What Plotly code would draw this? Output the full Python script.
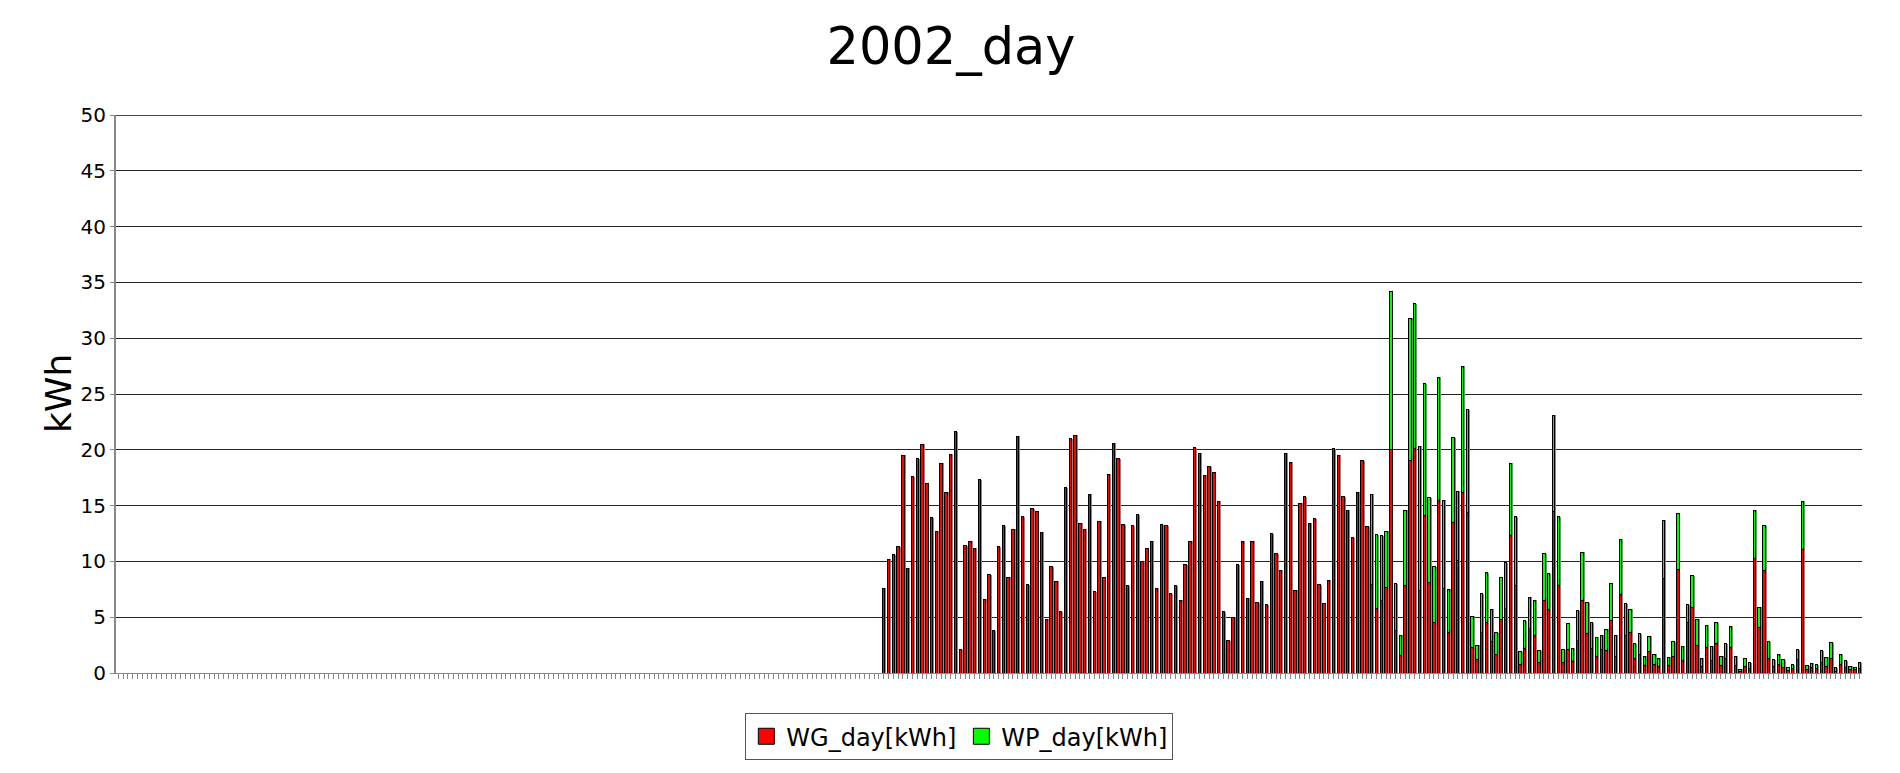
import pandas as pd
import plotly.graph_objects as go

# categories: every day of 2002
days = [d.strftime("%Y-%m-%d") for d in pd.date_range("2002-01-01", "2002-12-31", freq="D")]

# WG_day[kWh] values, first value belongs to day index 160 (2002-06-10)
wg_start = 160
wg_day = [
    7.6, 10.2, 10.6, 11.3, 19.5, 9.4, 17.6, 19.2, 20.5, 17.0,
    13.9, 12.7, 18.8, 16.2, 19.6, 21.6, 2.1, 11.4, 11.8, 11.2,
    17.3, 6.6, 8.8, 3.8, 11.3, 13.2, 8.6, 12.9, 21.2, 14.0,
    7.9, 14.7, 14.5, 12.6,
    4.8, 9.5, 8.2, 5.5, 16.6, 21.0, 21.3, 13.4, 12.9, 16.0,
    7.3, 13.6, 8.6, 17.8, 20.6, 19.2, 13.3, 7.8, 13.2, 14.2,
    10.0, 11.2, 11.8, 7.6, 13.3, 13.2, 7.1, 7.8, 6.5, 9.7,
    11.8, 20.2, 19.7, 17.7, 18.5,
    18.0, 15.4, 5.5, 2.9, 5.0, 9.7, 11.8, 6.7, 11.8, 6.3,
    8.2, 6.1, 12.5, 10.7, 9.2, 19.7, 18.9, 7.4, 15.2, 15.8,
    13.4, 13.8, 7.9, 6.2, 8.3, 20.1, 19.5, 15.8, 14.6, 12.1,
    16.2, 19.0, 13.1,
    7.9, 5.8, 6.5, 7.7, 20.0, 3.8, 1.6, 7.8, 19.0, 20.1,
    7.4, 14.1, 8.1, 4.5, 15.5, 7.6, 3.6, 13.5, 10.1, 16.2,
    14.4, 2.3, 1.2, 3.6, 4.5, 2.8, 1.7, 4.8, 5.8, 12.3,
    7.8, 0.8, 2.2, 4.0, 3.4, 0.9, 6.5, 5.7, 14.5, 7.8,
    0.9, 2.1, 1.0, 2.9, 6.5, 3.5, 2.2, 1.5, 2.1, 2.0,
    4.7, 1.5, 7.0, 3.4, 3.6, 1.3, 1.7, 0.7, 1.9, 0.8,
    0.6, 8.5, 0.7, 1.5, 9.3, 1.1, 4.5, 5.9, 2.5, 0.6,
    2.3, 1.1, 2.6, 0.7, 1.3, 2.3, 0.7, 0.15, 0.6, 0.4,
    10.3, 4.1, 9.2, 1.3, 0.6, 0.75, 0.5, 0.2, 0.36, 1.2,
    11.1, 0.3, 0.45, 0.36, 0.96, 0.6, 1.3, 0.15, 0.8, 0.5,
    0.3, 0.27, 0.36,
]

# WP_day[kWh] values, first value belongs to day index 262 (2002-09-20)
wp_start = 262
wp_day = [
    8.1, 6.6, 5.8, 5.0, 14.2, 4.2, 1.8, 6.8, 12.8, 13.0,
    12.9, 11.8, 7.6, 5.0, 11.0, 7.9, 3.9, 7.6, 6.2, 11.3,
    9.2, 2.8, 1.3, 3.5, 4.5, 2.9, 1.9, 3.8, 4.1, 6.5,
    6.2, 1.1, 2.5, 2.8, 3.1, 1.1, 4.2, 3.2, 8.6, 6.2,
    1.2, 2.3, 1.2, 2.7, 4.3, 2.8, 2.3, 1.7, 1.3, 1.9,
    3.3, 1.9, 5.0, 2.8, 2.1, 1.3, 1.8, 0.8, 1.4, 0.9,
    0.7, 5.2, 0.7, 1.3, 5.0, 1.3, 1.6, 2.8, 2.3, 0.7,
    2.0, 1.3, 1.9, 0.8, 1.3, 1.9, 0.8, 0.2, 0.7, 0.5,
    4.3, 1.8, 4.0, 1.5, 0.6, 0.95, 0.7, 0.25, 0.4, 0.9,
    4.3, 0.36, 0.42, 0.36, 1.04, 0.8, 1.4, 0.3, 0.9, 0.6,
    0.3, 0.18, 0.54,
]

series_names = ["WG_day[kWh]", "WP_day[kWh]"]
series_colors = ["#FF0000", "#00FF00"]
y_title = "kWh"
chart_title = "2002_day"

wg_full = [None] * wg_start + wg_day
wg_full += [None] * (len(days) - len(wg_full))
wp_full = [None] * wp_start + wp_day
wp_full += [None] * (len(days) - len(wp_full))

FONT = "DejaVu Sans, Verdana, sans-serif"
BAR_W = 0.5

fig = go.Figure()
# gray drop shadows (own stacking axis, drawn beneath)
for ys in (wg_full, wp_full):
    fig.add_trace(go.Bar(x=days, y=ys, xaxis="x", yaxis="y", width=BAR_W, offset=-BAR_W / 2 + 0.3,
                         marker=dict(color="#8a8a8a", line=dict(width=0)),
                         showlegend=False, hoverinfo="skip"))
# real bars
for ys, nm, col in zip((wg_full, wp_full), series_names, series_colors):
    fig.add_trace(go.Bar(x=days, y=ys, name=nm, xaxis="x2", yaxis="y", width=BAR_W,
                         marker=dict(color=col, line=dict(color="#000000", width=1)),
                         showlegend=False))
# legend entries with larger square swatches
for nm, col in zip(series_names, series_colors):
    fig.add_trace(go.Scatter(x=[None], y=[None], mode="markers", name=nm, xaxis="x2", yaxis="y",
                             marker=dict(symbol="square", size=16, color=col,
                                         line=dict(color="#000000", width=1)),
                             showlegend=True))

# page body has an 8px margin, so offsets are compensated
fig.update_layout(
    width=1900, height=773,
    barmode="stack",
    plot_bgcolor="white", paper_bgcolor="white",
    margin=dict(l=108, r=46, t=107, b=108, autoexpand=False),
    font=dict(family=FONT, color="#000000"),
    title=dict(text=chart_title, x=943 / 1900, xref="container", xanchor="center",
               y=1 - 38 / 773, yref="container", yanchor="middle",
               font=dict(size=51, family=FONT, color="#000000")),
    showlegend=True,
    legend=dict(orientation="h", x=0.483, xanchor="center", y=-0.072, yanchor="top",
                font=dict(size=24, family=FONT), bordercolor="#555555", borderwidth=1,
                bgcolor="white", traceorder="normal", itemsizing="trace"),
    xaxis=dict(type="category", range=[-0.5, len(days) - 0.5], showticklabels=False,
               tickmode="linear", tick0=0, dtick=1,
               ticks="outside", ticklen=5, tickcolor="#888888", tickwidth=1, showgrid=False,
               showline=True, linecolor="#888888", linewidth=1, automargin=False),
    xaxis2=dict(type="category", range=[-0.5, len(days) - 0.5], overlaying="x", matches="x",
                showticklabels=False, ticks="", showgrid=False, showline=False, visible=False),
    yaxis=dict(range=[0, 50], tickmode="linear", dtick=5, tick0=0, showgrid=True,
               gridcolor="#222222", gridwidth=1, ticks="outside", ticklen=4, tickcolor="#888888",
               showline=True, linecolor="#888888", linewidth=2,
               tickfont=dict(size=20, family=FONT), zeroline=False,
               automargin=False),
    shapes=[dict(type="line", xref="paper", x0=0, x1=1, yref="y", y0=49.97, y1=49.97,
                 line=dict(color="#222222", width=1), layer="above")],
    annotations=[dict(text=y_title, textangle=-90, xref="paper", x=(50 - 108) / 1746,
                      xanchor="center", yref="paper", y=0.5, yanchor="middle",
                      showarrow=False, font=dict(size=36, family=FONT, color="#000000"))],
)

fig.write_html("out.html")
